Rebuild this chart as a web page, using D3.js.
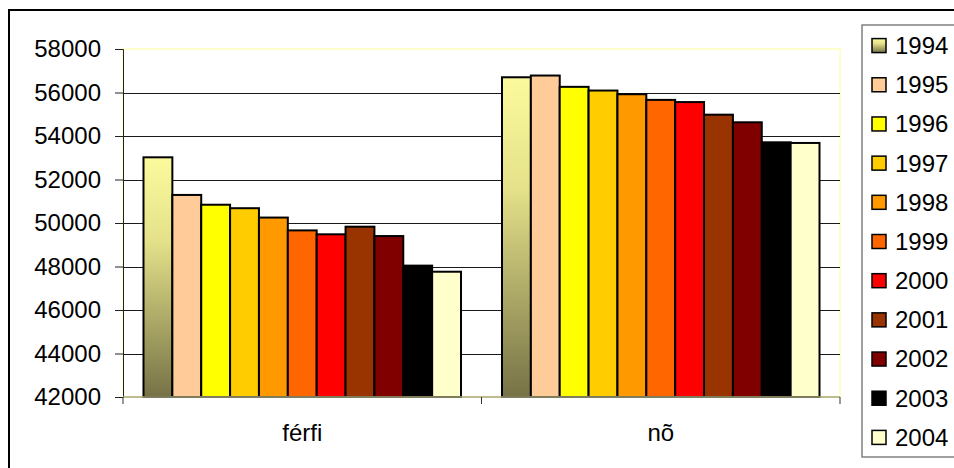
<!DOCTYPE html>
<html>
<head>
<meta charset="utf-8">
<script src="https://cdn.jsdelivr.net/npm/d3@7"></script>
<style>
  html, body { margin: 0; padding: 0; background: #fff; }
  svg { display: block; font-family: "Liberation Sans", Arial, sans-serif; }
</style>
</head>
<body>
<svg id="chart" width="954" height="468"></svg>
<script>
const categories = ["férfi", "nõ"];
const years = ["1994","1995","1996","1997","1998","1999","2000","2001","2002","2003","2004"];
const ferfi = [53020, 51290, 50840, 50680, 50250, 49660, 49480, 49830, 49400, 48040, 47760];
const no = [56700, 56780, 56260, 56090, 55920, 55660, 55560, 54980, 54630, 53710, 53680];
const colors = ["url(#grad1994)","#FFCC99","#FFFF00","#FFCC00","#FF9900","#FF6600","#FF0000","#993300","#800000","#000000","#FFFFCC"];
const yTicks = [42000, 44000, 46000, 48000, 50000, 52000, 54000, 56000, 58000];

const seriesByCat = { "férfi": ferfi, "nõ": no };

(function () {
const svg = d3.select("#chart");
const defs = svg.append("defs");
const g1 = defs.append("linearGradient").attr("id","grad1994")
  .attr("x1",0).attr("y1",0).attr("x2",0).attr("y2",1);
g1.append("stop").attr("offset","0%").attr("stop-color","#FBFB9D");
g1.append("stop").attr("offset","35%").attr("stop-color","#E4E18A");
g1.append("stop").attr("offset","100%").attr("stop-color","#767246");

// chart area border
svg.append("rect").attr("x",9).attr("y",10).attr("width",1000).attr("height",1000)
  .attr("fill","#fff").attr("stroke","#000").attr("stroke-width",2);

const pLeft = 123, pRight = 840, pTop = 49, pBottom = 397;

const y = d3.scaleLinear().domain([42000, 58000]).range([pBottom, pTop]);
const x0 = d3.scaleBand().domain(categories).range([pLeft, pRight]).padding(0);
const x1 = d3.scaleBand().domain(years).range([0, x0.bandwidth()]).paddingInner(0).paddingOuter(0.71);

// plot area border
svg.append("rect").attr("x",pLeft).attr("y",pTop).attr("width",pRight-pLeft).attr("height",pBottom-pTop)
  .attr("fill","#fff").attr("stroke","#FFFFCC").attr("stroke-width",2);

// gridlines
svg.append("g").selectAll("line").data(yTicks.filter(d => d > 42000 && d < 58000)).join("line")
  .attr("x1",pLeft).attr("x2",pRight).attr("y1",d=>Math.round(y(d))+0.5).attr("y2",d=>Math.round(y(d))+0.5)
  .attr("stroke","#1a1a1a").attr("stroke-width",1);

// bars
const groups = svg.append("g").selectAll("g").data(categories).join("g")
  .attr("transform", d => `translate(${x0(d)},0)`);
groups.selectAll("rect").data(c => seriesByCat[c].map((v,i) => ({year: years[i], v, i})))
  .join("rect")
  .attr("x", d => x1(d.year))
  .attr("y", d => y(d.v))
  .attr("width", x1.bandwidth())
  .attr("height", d => y(42000) - y(d.v))
  .attr("fill", d => colors[d.i])
  .attr("stroke","#000").attr("stroke-width",2);

// y axis
const yAxis = d3.axisLeft(y).tickValues(yTicks).tickSize(8).tickPadding(14).tickFormat(d3.format("d"));
const ya = svg.append("g").attr("transform",`translate(${pLeft},0)`).call(yAxis);
ya.select(".domain").attr("stroke","#222").attr("stroke-width",1);
ya.selectAll(".tick line").attr("stroke","#222");
ya.selectAll(".tick text").attr("font-size","24px").attr("fill","#000")
  .attr("font-family","'Liberation Sans', Arial, sans-serif");

// x axis baseline
svg.append("line").attr("x1",pLeft).attr("x2",pRight).attr("y1",pBottom).attr("y2",pBottom)
  .attr("stroke","#A9A77A").attr("stroke-width",1.5);
// x ticks at category boundaries
const bounds = [pLeft, ...categories.map(c => x0(c) + x0.bandwidth())];
svg.append("g").selectAll("line").data(bounds).join("line")
  .attr("x1",d=>d).attr("x2",d=>d).attr("y1",pBottom).attr("y2",pBottom+7)
  .attr("stroke","#333").attr("stroke-width",1);
svg.append("g").selectAll("text").data(categories).join("text")
  .attr("x", d => x0(d) + x0.bandwidth()/2)
  .attr("y", 441)
  .attr("text-anchor","middle")
  .attr("font-size","24px")
  .text(d => d);

// legend
svg.append("rect").attr("x",862).attr("y",25).attr("width",200).attr("height",432)
  .attr("fill","#fff").attr("stroke","#808080").attr("stroke-width",1.5);
const ly = d3.scaleBand().domain(years).range([26, 457]).padding(0);
const leg = svg.append("g").selectAll("g").data(years).join("g")
  .attr("transform", d => `translate(0,${ly(d) + ly.bandwidth()/2})`);
leg.append("rect").attr("x",872).attr("y",-7).attr("width",14).attr("height",14)
  .attr("fill",(d,i)=>colors[i]).attr("stroke","#000").attr("stroke-width",1.5);
leg.append("text").attr("x",895).attr("y",0).attr("dy","0.35em")
  .attr("font-size","24px").text(d=>d);
})();
</script>
</body>
</html>
